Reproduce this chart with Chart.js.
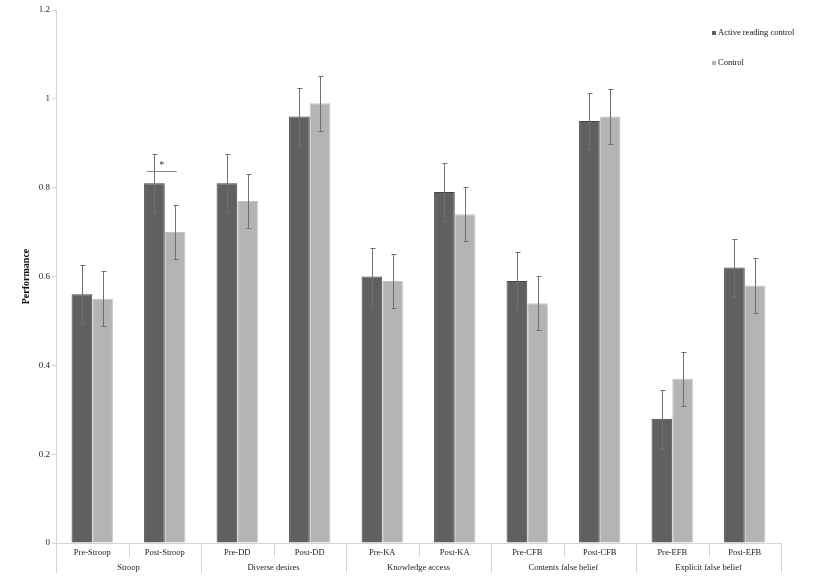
<!DOCTYPE html>
<html>
<head>
<meta charset="utf-8">
<script src="https://cdn.jsdelivr.net/npm/chart.js@4.4.0/dist/chart.umd.min.js"></script>
<style>
  body { margin: 0; background: #fff; }
</style>
</head>
<body>
<canvas id="chart" width="829" height="579"></canvas>
<script>
const categories = ['Pre-Stroop', 'Post-Stroop', 'Pre-DD', 'Post-DD', 'Pre-KA', 'Post-KA', 'Pre-CFB', 'Post-CFB', 'Pre-EFB', 'Post-EFB'];
const groups = ['Stroop', 'Diverse desires', 'Knowledge access', 'Contents false belief', 'Explicit false belief'];
const activeValues = [0.56, 0.81, 0.81, 0.96, 0.60, 0.79, 0.59, 0.95, 0.28, 0.62];
const controlValues = [0.55, 0.70, 0.77, 0.99, 0.59, 0.74, 0.54, 0.96, 0.37, 0.58];
const activeErrors = [0.065, 0.065, 0.065, 0.065, 0.065, 0.065, 0.065, 0.064, 0.065, 0.065];
const controlErrors = [0.062, 0.061, 0.061, 0.062, 0.061, 0.061, 0.061, 0.062, 0.061, 0.062];
const yTicks = [0, 0.2, 0.4, 0.6, 0.8, 1, 1.2];
const starMark = { index: 1, value: 0.838 };

const SERIF = '"Liberation Serif", "Times New Roman", serif';
const LINE = '#d4d4d4';

const extras = {
  id: 'extras',
  afterDatasetsDraw(chart) {
    const { ctx, scales: { x, y } } = chart;
    ctx.save();
    ctx.lineWidth = 1;
    ctx.strokeStyle = '#707070';
    [activeErrors, controlErrors].forEach((errs, di) => {
      const vals = chart.data.datasets[di].data;
      chart.getDatasetMeta(di).data.forEach((bar, i) => {
        const cx = Math.round(bar.x) + 0.5;
        const top = Math.round(y.getPixelForValue(vals[i] + errs[i])) + 0.5;
        const bot = Math.round(y.getPixelForValue(vals[i] - errs[i])) + 0.5;
        ctx.beginPath();
        ctx.moveTo(cx, top); ctx.lineTo(cx, bot);
        ctx.moveTo(cx - 2, top); ctx.lineTo(cx + 3, top);
        ctx.moveTo(cx - 2, bot); ctx.lineTo(cx + 3, bot);
        ctx.stroke();
      });
    });

    // significance marker over Post-Stroop
    const c = x.getPixelForValue(starMark.index);
    const sy = Math.round(y.getPixelForValue(starMark.value)) + 0.5;
    ctx.strokeStyle = '#8a8a8a';
    ctx.beginPath();
    ctx.moveTo(c - 18, sy); ctx.lineTo(c + 12, sy);
    ctx.stroke();
    ctx.fillStyle = '#333';
    ctx.font = '10px ' + SERIF;
    ctx.textAlign = 'center';
    ctx.textBaseline = 'middle';
    ctx.fillText('*', c - 3, sy - 6);
    ctx.restore();
  },
  afterDraw(chart) {
    const { ctx, scales: { x }, chartArea } = chart;
    const w = x.getPixelForValue(1) - x.getPixelForValue(0);
    const base = Math.round(chartArea.bottom);
    ctx.save();
    ctx.strokeStyle = LINE;
    ctx.lineWidth = 1;
    for (let k = 0; k <= categories.length; k++) {
      const px = Math.round(chartArea.left + k * w) + 0.5;
      ctx.beginPath();
      ctx.moveTo(px, base);
      ctx.lineTo(px, k % 2 === 0 ? base + 30 : base + 14);
      ctx.stroke();
    }
    ctx.fillStyle = '#222';
    ctx.font = '8.5px ' + SERIF;
    ctx.textAlign = 'center';
    ctx.textBaseline = 'middle';
    categories.forEach((lab, i) => {
      ctx.fillText(lab, x.getPixelForValue(i), base + 10);
    });
    groups.forEach((lab, g) => {
      ctx.fillText(lab, chartArea.left + (2 * g + 1) * w, base + 25);
    });

    // legend
    const items = [['Active reading control', '#606060'], ['Control', '#b4b4b4']];
    ctx.textAlign = 'left';
    items.forEach(([lab, col], i) => {
      const ly = 33 + i * 30;
      ctx.fillStyle = col;
      ctx.fillRect(712, ly - 2, 4, 4);
      ctx.fillStyle = '#111';
      ctx.fillText(lab, 718, ly);
    });
    ctx.restore();
  }
};

new Chart(document.getElementById('chart'), {
  type: 'bar',
  data: {
    labels: categories,
    datasets: [
      {
        label: 'Active reading control',
        data: activeValues,
        backgroundColor: '#606060',
        borderColor: '#444444',
        borderWidth: 1,
        categoryPercentage: 0.57,
        barPercentage: 1.0
      },
      {
        label: 'Control',
        data: controlValues,
        backgroundColor: '#b4b4b4',
        borderColor: '#c4c4c4',
        borderWidth: 1,
        categoryPercentage: 0.57,
        barPercentage: 1.0
      }
    ]
  },
  options: {
    responsive: false,
    animation: false,
    layout: { padding: { top: 10, right: 48, left: 0, bottom: 0 } },
    plugins: {
      legend: { display: false },
      tooltip: { enabled: false }
    },
    scales: {
      x: {
        offset: true,
        grid: { display: false },
        border: { display: true, color: LINE },
        ticks: { display: false },
        afterFit(scale) { scale.height = 36; }
      },
      y: {
        min: 0,
        max: 1.2,
        afterBuildTicks(scale) { scale.ticks = yTicks.map(v => ({ value: v })); },
        grid: { display: true, drawOnChartArea: false, drawTicks: true, tickLength: 4, color: LINE },
        border: { display: true, color: LINE },
        ticks: {
          padding: 2,
          color: '#222',
          font: { family: SERIF, size: 9 },
          callback: v => String(Number(v.toFixed(1)))
        },
        title: {
          display: true,
          text: 'Performance',
          color: '#111',
          font: { family: SERIF, size: 10, weight: 'bold' },
          padding: { top: 20, bottom: 0 }
        },
        afterFit(scale) { scale.width = 56; }
      }
    }
  },
  plugins: [extras]
});
</script>
</body>
</html>
